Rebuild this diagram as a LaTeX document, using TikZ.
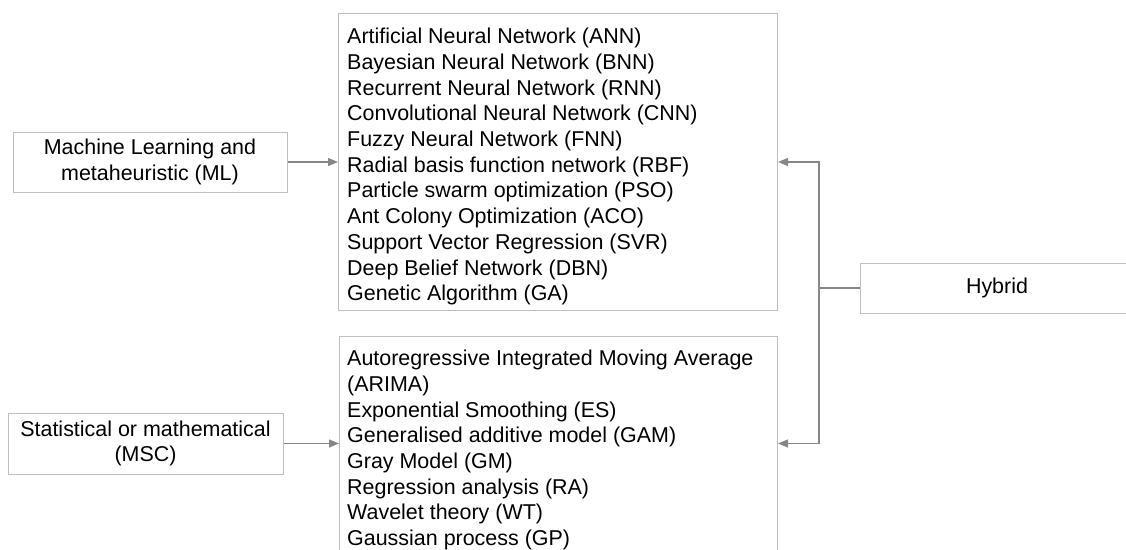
\documentclass[tikz,border=0pt]{standalone}
\usepackage{fontspec}
\setmainfont{Liberation Sans}
\usepackage{tikz}
\usetikzlibrary{arrows.meta,positioning,calc}
\definecolor{boxGray}{RGB}{190,190,190}
\definecolor{linkGray}{RGB}{135,135,135}
\newcommand{\diagfont}{\fontsize{21.45}{25.7}\selectfont}

\begin{document}
\begin{tikzpicture}[x=1pt,y=-1pt,
      bx/.style={draw=boxGray, line width=1pt, font=\diagfont, align=center,
                 inner sep=0pt},
      listbx/.style={draw=boxGray, line width=1pt, anchor=north west, inner sep=0pt},
      listtxt/.style={font=\diagfont, align=left, anchor=north west, inner sep=0pt},
      arr/.style={-{Triangle[length=10pt,width=8pt]},draw=linkGray,line width=1.3pt},
      link/.style={draw=linkGray,line width=1.3pt}
    ]
      \clip (0,0) rectangle (1126,549);
      % Left: method families
      \node[bx, minimum width=274pt, minimum height=60pt] (ml) at (150,162)
        {Machine Learning and\\metaheuristic (ML)};
      \node[bx, minimum width=275pt, minimum height=61pt] (msc) at (145.5,443.5)
        {Statistical or mathematical\\(MSC)};
      % Middle: lists of methods
      \node[listbx, minimum width=439pt, minimum height=297pt] (mlList) at (338,13) {};
      \node[listtxt] (mlText) at (347,28)
        {Artificial Neural Network (ANN)\\
         Bayesian Neural Network (BNN)\\
         Recurrent Neural Network (RNN)\\
         Convolutional Neural Network (CNN)\\
         Fuzzy Neural Network (FNN)\\
         Radial basis function network (RBF)\\
         Particle swarm optimization (PSO)\\
         Ant Colony Optimization (ACO)\\
         Support Vector Regression (SVR)\\
         Deep Belief Network (DBN)\\
         Genetic Algorithm (GA)};
      \node[listbx, minimum width=438pt, minimum height=240pt] (stList) at (339,336) {};
      \node[listtxt] (stText) at (347,350)
        {Autoregressive Integrated Moving Average\\
         (ARIMA)\\
         Exponential Smoothing (ES)\\
         Generalised additive model (GAM)\\
         Gray Model (GM)\\
         Regression analysis (RA)\\
         Wavelet theory (WT)\\
         Gaussian process (GP)};
      % Right: hybrid
      \node[bx, minimum width=274pt, minimum height=50pt] (hybrid) at (997,288) {Hybrid};
      \coordinate (fork) at (819,288);
      % Arrows
      \draw[arr] (ml.east) -- (ml.east -| mlList.west);
      \draw[arr] (msc.east) -- (msc.east -| stList.west);
      \draw[link] (hybrid.west) -- (fork);
      \draw[arr] (fork) |- (mlList.east);
      \draw[arr] (fork) |- (msc.east -| stList.east);
    \end{tikzpicture}
\end{document}
